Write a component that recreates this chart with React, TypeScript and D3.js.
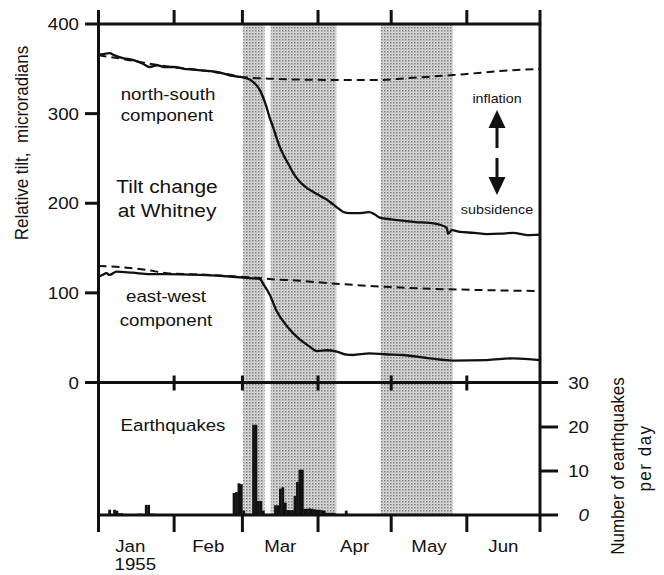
import React from 'react';
import * as d3 from 'd3';

// ---------- data (day index: 0 = 1 Jan 1955) ----------
const monthStarts = [0, 31, 59, 90, 120, 151, 181];
const monthLabels = ['Jan', 'Feb', 'Mar', 'Apr', 'May', 'Jun'];
const tiltTicks = [0, 100, 200, 300, 400];
const quakeTicks = [0, 10, 20, 30];

const shadeStart = [59.3, 70.6, 115.7];
const shadeEnd = [68.1, 97.5, 145.3];

const nsDays = [0, 2, 4.5, 6.6, 10, 14, 18, 21, 24, 27, 31, 35, 39, 43, 47, 51, 55, 58, 60, 62, 63.2, 65, 66.1, 67.5, 68.8, 70, 71.5, 73, 74.3, 76, 78.4, 80, 82.5, 85, 87.8, 90.7, 93.6, 96.3, 98.9, 100.5, 103, 106, 109, 111, 113, 115.3, 120, 124.8, 130, 135.8, 140, 142.8, 143.3, 144.9, 148.2, 154, 159.2, 165, 170, 175.7, 181];
const nsTilt = [366, 366.5, 367.5, 365, 362, 360, 356, 352, 354, 352, 352, 350, 349, 348, 347, 345, 342, 341, 340, 338, 335.7, 331, 326.5, 318, 308, 297, 285.5, 273, 263, 253, 241, 233, 224, 218, 213, 208.5, 204, 198.5, 193, 190, 189, 189, 189.5, 190, 188, 184, 182, 180.5, 179, 178, 176, 172.5, 166, 170, 168, 167, 165.5, 166, 167, 164.5, 165];

const nsTrendDays = [0, 10, 20, 30, 40, 50, 60, 70, 82.5, 100, 115, 123.5, 131.7, 145.3, 152, 164.6, 181];
const nsTrend = [365, 361, 356, 352, 349, 345.5, 340.5, 339, 338, 337.5, 337.5, 339, 340.5, 343, 344.5, 347.5, 350];

const ewDays = [0, 1.6, 3.3, 4.5, 7.4, 14, 21, 28, 41.5, 55, 62, 66, 68, 70.2, 73, 77.2, 82.5, 86.6, 89.5, 93.6, 97.7, 101.8, 104.2, 111.2, 117.4, 124.8, 135.8, 145.3, 159.2, 170, 181];
const ewTilt = [118, 120, 122, 120, 123.7, 122.5, 121, 121, 120, 118, 116.5, 115.5, 108, 98, 80, 63, 48, 40, 35, 36, 34.4, 31, 30.7, 32.5, 31.5, 30.7, 27, 24.5, 25, 27, 25];

const ewTrendDays = [0, 10, 20, 28, 41.5, 55, 66, 70, 82.5, 93.6, 110, 131.7, 160, 181];
const ewTrend = [130, 128.5, 125.5, 122, 120.5, 118.5, 116.5, 115.5, 113.5, 111, 108, 105, 103, 102];

const quakeDays = [4, 6, 7, 8, 9, 16, 17, 19, 20, 21, 22, 55, 56, 57, 58, 59, 63, 64, 65, 66, 67, 72, 73, 74, 75, 76, 77, 78, 79, 80, 81, 82, 83, 84, 85, 86, 87, 88, 89, 90, 91, 92, 93, 94, 95, 96, 101];
const quakeCounts = [1.2, 1.2, 1, 0.4, 0.4, 0.3, 0.3, 2.3, 2.3, 0.3, 0.3, 5, 5.2, 7.2, 7, 1, 20.5, 20.5, 3.2, 3.2, 1, 2.2, 2.2, 6, 6.3, 2.8, 1.1, 1.1, 1.1, 4.3, 7.5, 10.3, 10.3, 1.4, 1.4, 1.5, 1.4, 1.3, 1.2, 1.2, 1.1, 1, 0.5, 0.5, 0.5, 0.5, 1];

// ---------- layout ----------
const W = 664;
const H = 575;
const FONT = '"Liberation Sans", Arial, Helvetica, sans-serif';
const INK = '#111';

const x = d3.scaleLinear().domain([0, 181]).range([98.5, 540]);
const yT = d3.scaleLinear().domain([0, 400]).range([382.5, 24]);
const yQ = d3.scaleLinear().domain([0, 30]).range([515, 383]);

function T({ x: tx, y: ty, size = 17, anchor = 'middle', italic = false, children }: any) {
  return (
    <text
      transform={`translate(${tx},${ty}) scale(1.1,1)`}
      textAnchor={anchor}
      fontSize={size}
      fontFamily={FONT}
      fontStyle={italic ? 'italic' : undefined}
      fill={INK}
    >
      {children}
    </text>
  );
}

function V({ x: tx, y: ty, size = 17, spacing = 0, children }: any) {
  return (
    <text
      transform={`translate(${tx},${ty}) rotate(-90) scale(1,1.1)`}
      textAnchor="middle"
      fontSize={size}
      fontFamily={FONT}
      fill={INK}
      letterSpacing={spacing}
      style={{ whiteSpace: 'pre' }}
    >
      {children}
    </text>
  );
}

export default function App() {
  const line = d3.line<[number, number]>().x(d => x(d[0])).y(d => yT(d[1])).curve(d3.curveMonotoneX);
  const ns = line(nsDays.map((d, i) => [d, nsTilt[i]]));
  const nsT = line(nsTrendDays.map((d, i) => [d, nsTrend[i]]));
  const ew = line(ewDays.map((d, i) => [d, ewTilt[i]]));
  const ewT = line(ewTrendDays.map((d, i) => [d, ewTrend[i]]));

  const innerMonths = monthStarts.slice(1, -1);
  const x0 = x(0);
  const x1 = x(181);

  return (
    <svg width={W} height={H} style={{ position: 'absolute', left: 0, top: 0, background: '#fff' }}>
      <defs>
        <pattern id="stip" width="3" height="3" patternUnits="userSpaceOnUse">
          <rect width="3" height="3" fill="#dcdcdc" />
          <rect x="0" y="0" width="1.5" height="1.5" fill="#7a7a7a" />
          <rect x="1.5" y="1.5" width="1" height="1" fill="#a4a4a4" />
        </pattern>
      </defs>

      {/* shaded intervals */}
      {shadeStart.map((s, i) => (
        <rect key={i} x={x(s)} y={yT(400)} width={x(shadeEnd[i]) - x(s)} height={yQ(0) - yT(400)} fill="url(#stip)" />
      ))}

      {/* earthquake histogram */}
      {quakeDays.map((d, i) => (
        <rect key={i} x={x(d)} y={yQ(quakeCounts[i])} width={x(d + 1) - x(d) + 0.3} height={yQ(0) - yQ(quakeCounts[i])} fill={INK} />
      ))}

      {/* tilt curves */}
      <path d={nsT!} fill="none" stroke={INK} strokeWidth={2} strokeDasharray="8,5" />
      <path d={ewT!} fill="none" stroke={INK} strokeWidth={2} strokeDasharray="8,5" />
      <path d={ns!} fill="none" stroke={INK} strokeWidth={2.3} />
      <path d={ew!} fill="none" stroke={INK} strokeWidth={2.3} />

      {/* frame */}
      <g stroke={INK} strokeWidth={3} strokeLinecap="butt">
        <line x1={x0} x2={x0} y1={10} y2={532} />
        <line x1={x1} x2={x1} y1={10} y2={532} />
        <line x1={85} x2={x1} y1={yT(400)} y2={yT(400)} />
        <line x1={85} x2={558} y1={yT(0)} y2={yT(0)} />
        <line x1={x0} x2={558} y1={yQ(0)} y2={yQ(0)} />
        {tiltTicks.filter(v => v > 0 && v < 400).map(v => (
          <line key={v} x1={85} x2={x0} y1={yT(v)} y2={yT(v)} />
        ))}
        {quakeTicks.filter(v => v > 0 && v < 30).map(v => (
          <line key={v} x1={x1} x2={558} y1={yQ(v)} y2={yQ(v)} />
        ))}
        {innerMonths.map(m => (
          <g key={m}>
            <line x1={x(m)} x2={x(m)} y1={10} y2={yT(400)} />
            <line x1={x(m)} x2={x(m)} y1={yT(0) - 7} y2={yT(0) + 8} />
            <line x1={x(m)} x2={x(m)} y1={yQ(0)} y2={532} />
          </g>
        ))}
      </g>

      {/* left tick labels */}
      {tiltTicks.map(v => (
        <T key={v} x={79} y={yT(v) + 6} anchor="end">{String(v)}</T>
      ))}
      {/* right tick labels */}
      {quakeTicks.map(v => (
        <T key={v} x={589} y={yQ(v) + 6} anchor="end" italic={v === 0}>{String(v)}</T>
      ))}
      {/* month labels */}
      {monthLabels.map((m, i) => (
        <T key={m} x={x((monthStarts[i] + monthStarts[i + 1]) / 2) - (i === 0 ? 6 : 0)} y={552}>{m}</T>
      ))}
      <T x={x(15.5) - 1} y={570}>1955</T>

      {/* axis titles */}
      <V x={28} y={143}>{'Relative tilt,  microradians'}</V>
      <V x={624} y={466}>Number of earthquakes</V>
      <V x={651} y={458} spacing={1.5}>per day</V>

      {/* annotations */}
      <T x={168} y={100}>north-south</T>
      <T x={167} y={121}>component</T>
      <T x={167} y={193} size={19}>Tilt change</T>
      <T x={167} y={217} size={19}>at Whitney</T>
      <T x={166} y={302}>east-west</T>
      <T x={166} y={326}>component</T>
      <T x={173} y={431}>Earthquakes</T>
      <T x={497} y={102.5} size={13}>inflation</T>
      <T x={497} y={214} size={13}>subsidence</T>

      {/* inflation / subsidence arrows */}
      <g fill={INK}>
        <rect x={495.5} y={127} width={3} height={21} />
        <path d="M497,110 L488.5,128 L505.5,128 Z" />
        <rect x={495.5} y={158} width={3} height={20} />
        <path d="M488.5,177 L505.5,177 L497,195 Z" />
      </g>
    </svg>
  );
}
